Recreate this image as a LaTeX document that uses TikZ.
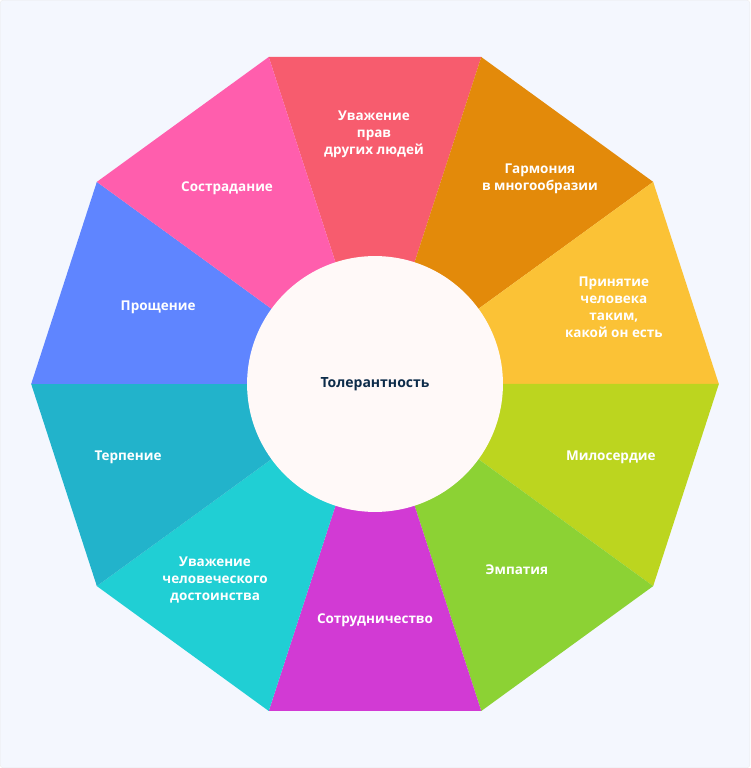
\documentclass[tikz,border=0pt]{standalone}
\usepackage{fontspec}
\usetikzlibrary{calc}
\setmainfont{Open Sans}
\begin{document}
\begin{tikzpicture}[x=1pt,y=1pt,
  lab/.style={text=white,font=\fontsize{13.5}{17}\selectfont\bfseries,align=center}]
\definecolor{bg}{HTML}{F4F7FE}
\definecolor{c1}{HTML}{F75C6E}\definecolor{c2}{HTML}{E38A0A}
\definecolor{c3}{HTML}{FBC236}\definecolor{c4}{HTML}{BCD51F}
\definecolor{c5}{HTML}{8CD234}\definecolor{c6}{HTML}{D23AD4}
\definecolor{c7}{HTML}{20CFD4}\definecolor{c8}{HTML}{22B3CB}
\definecolor{c9}{HTML}{5F85FF}\definecolor{c10}{HTML}{FF5EAD}
\definecolor{inner}{HTML}{FFF9F8}\definecolor{navy}{HTML}{0D2C4A}
\path[use as bounding box,fill=bg,draw=black!8,rounded corners=3pt] (0,0) rectangle (750,768);
\coordinate (c) at (375,384);
\foreach \a/\col in {72/c1,36/c2,0/c3,-36/c4,-72/c5,-108/c6,-144/c7,180/c8,144/c9,108/c10}{
  \fill[\col] (c) -- ($(c)+(\a:344)$) -- ($(c)+(\a+36:344)$) -- cycle;
}
\node[circle,fill=inner,minimum size=256pt,inner sep=0pt] (ctr) at (c) {};
\node[font=\fontsize{14}{17}\selectfont\bfseries,text=navy] (t0) at (c) {Толерантность};
\node[lab] (t1) at (374,634) {Уважение\\прав\\других людей};
\node[lab] (t2) at (540,589) {Гармония\\в многообразии};
\node[lab] (t3) at (614,461) {Принятие\\человека\\таким,\\какой он есть};
\node[lab] (t4) at (611,311) {Милосердие};
\node[lab] (t5) at (517,198) {Эмпатия};
\node[lab] (t6) at (375,148) {Сотрудничество};
\node[lab] (t7) at (215,188) {Уважение\\человеческого\\достоинства};
\node[lab] (t8) at (128,311) {Терпение};
\node[lab] (t9) at (158,461) {Прощение};
\node[lab] (t10) at (227,580) {Сострадание};
\end{tikzpicture}
\end{document}
